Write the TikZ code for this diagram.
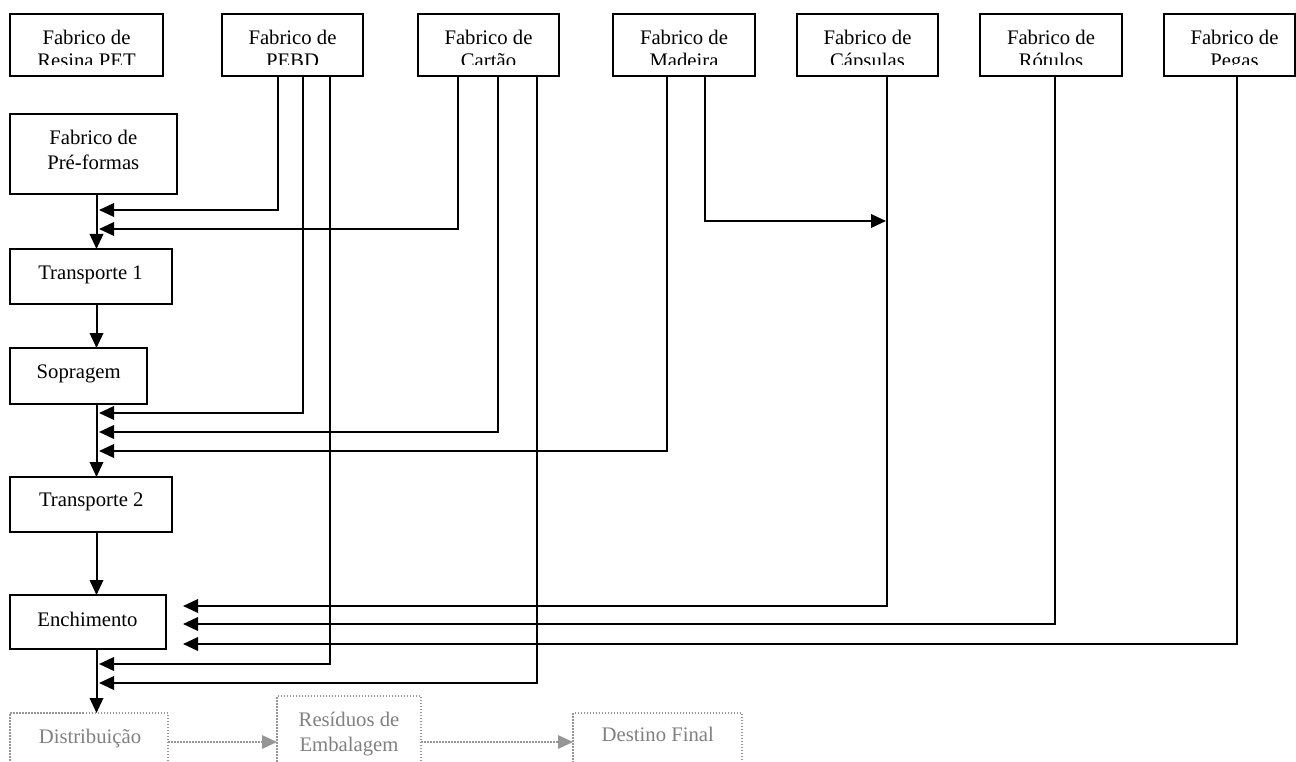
\documentclass[tikz,border=0pt]{standalone}
\usepackage{fontspec}
\setmainfont{Liberation Serif}
\usetikzlibrary{arrows.meta}
\definecolor{txtgray}{RGB}{128,128,128}
\definecolor{dotgray}{RGB}{150,150,150}
\begin{document}
\begin{tikzpicture}[x=1pt,y=-1pt,
  box/.style={draw=black,line width=2pt,anchor=north west,inner sep=0pt,outer sep=0pt},
  ghost/.style={draw=dotgray,line width=1.5pt,dash pattern=on 1.5pt off 1.5pt,anchor=north west,inner sep=0pt,outer sep=0pt},
  txt/.style={anchor=base,inner sep=0pt,outer sep=0pt,font=\fontsize{20.7}{24}\selectfont},
  gtxt/.style={txt,text=txtgray},
  link/.style={line width=2pt},
  flow/.style={line width=2pt,-{Triangle[length=15pt,width=13.5pt]}},
  gflow/.style={draw=dotgray,line width=1.5pt,dash pattern=on 1.5pt off 1.5pt,-{Triangle[length=15pt,width=13.5pt,fill=dotgray]}},
]
\useasboundingbox (0,0) rectangle (1296,762);
\clip (0,0) rectangle (1296,762);

% suppliers along the top
\node[box,minimum width=153pt,minimum height=62pt] (resina)   at (10,14)   {};
\node[box,minimum width=141pt,minimum height=62pt] (pebd)     at (222,14)  {};
\node[box,minimum width=141pt,minimum height=62pt] (cartao)   at (418,14)  {};
\node[box,minimum width=142pt,minimum height=62pt] (madeira)  at (613,14)  {};
\node[box,minimum width=141pt,minimum height=62pt] (capsulas) at (797,14)  {};
\node[box,minimum width=142pt,minimum height=62pt] (rotulos)  at (980,14)  {};
\node[box,minimum width=131pt,minimum height=62pt] (pegas)    at (1164,14) {};

\begin{scope}
  \clip (0,0) rectangle (1296,65);
  \node[txt] (resinaA)   at (86.5,45)   {Fabrico de};
  \node[txt] (resinaB)   at (86.5,67.5) {Resina PET};
  \node[txt] (pebdA)     at (292.5,45)  {Fabrico de};
  \node[txt] (pebdB)     at (292.5,67.5){PEBD};
  \node[txt] (cartaoA)   at (488.5,45)  {Fabrico de};
  \node[txt] (cartaoB)   at (488.5,67.5){Cartão};
  \node[txt] (madeiraA)  at (684,45)    {Fabrico de};
  \node[txt] (madeiraB)  at (684,67.5)  {Madeira};
  \node[txt] (capsulasA) at (867.5,45)  {Fabrico de};
  \node[txt] (capsulasB) at (867.5,67.5){Cápsulas};
  \node[txt] (rotulosA)  at (1051,45)   {Fabrico de};
  \node[txt] (rotulosB)  at (1051,67.5) {Rótulos};
  \node[txt] (pegasA)    at (1234.5,45) {Fabrico de};
  \node[txt] (pegasB)    at (1234.5,67.5){Pegas};
\end{scope}

% process chain on the left
\node[box,minimum width=167pt,minimum height=80pt] (preformas)  at (10,114) {};
\node[box,minimum width=162pt,minimum height=55pt] (t1)         at (10,249) {};
\node[box,minimum width=137pt,minimum height=56pt] (sopragem)   at (10,348) {};
\node[box,minimum width=162pt,minimum height=55pt] (t2)         at (10,477) {};
\node[box,minimum width=156pt,minimum height=54pt] (enchimento) at (10,595) {};

\node[txt] (preformasA) at (93.3,144.5) {Fabrico de};
\node[txt] (preformasB) at (93.3,169.5) {Pré-formas};
\node[txt] (t1T)        at (90.5,279.3) {Transporte 1};
\node[txt] (sopragemT)  at (78.7,378.5) {Sopragem};
\node[txt] (t2T)        at (91.3,506)   {Transporte 2};
\node[txt] (enchT)      at (87.5,626.5) {Enchimento};

% later life-cycle stages (dotted, grey)
\node[ghost,minimum width=158pt,minimum height=58pt] (dist)     at (10,713)  {};
\node[ghost,minimum width=144pt,minimum height=92pt] (residuos) at (277,696) {};
\node[ghost,minimum width=169pt,minimum height=58pt] (destino)  at (573,713) {};

\node[gtxt] (distT)      at (90,743)    {Distribuição};
\node[gtxt] (residuosA)  at (349,726.3) {Resíduos de};
\node[gtxt] (residuosB)  at (349,751.4) {Embalagem};
\node[gtxt] (destinoT)   at (657.8,741.4) {Destino Final};

% columns of the supply lines
\coordinate (main) at (96.5,0);
\coordinate (pe1) at (278,0);
\coordinate (pe2) at (303,0);
\coordinate (pe3) at (330,0);
\coordinate (ca1) at (458,0);
\coordinate (ca2) at (498,0);
\coordinate (ca3) at (537,0);
\coordinate (ma1) at (667,0);
\coordinate (ma2) at (705,0);
\coordinate (cp)  at (887,0);
\coordinate (ro)  at (1055,0);
\coordinate (pg)  at (1237,0);

% arrow tips on the main line and at Enchimento
\coordinate (in1) at (99,210);
\coordinate (in2) at (99,229);
\coordinate (in3) at (99,413);
\coordinate (in4) at (99,432);
\coordinate (in5) at (99,451);
\coordinate (in6) at (99,664);
\coordinate (in7) at (99,683);
\coordinate (en1) at (183,606);
\coordinate (en2) at (183,624);
\coordinate (en3) at (183,644);
\coordinate (mc)  at (886,221);

% main flow
\draw[flow] (preformas.south -| main) -- (t1.north -| main);
\draw[flow] (t1.south -| main) -- (sopragem.north -| main);
\draw[flow] (sopragem.south -| main) -- (t2.north -| main);
\draw[flow] (t2.south -| main) -- (enchimento.north -| main);
\draw[flow] (enchimento.south -| main) -- (dist.north -| main);

% supplies
\draw[flow] (pebd.south -| pe1) |- (in1);
\draw[flow] (cartao.south -| ca1) |- (in2);
\draw[flow] (pebd.south -| pe2) |- (in3);
\draw[flow] (cartao.south -| ca2) |- (in4);
\draw[flow] (madeira.south -| ma1) |- (in5);
\draw[flow] (pebd.south -| pe3) |- (in6);
\draw[flow] (cartao.south -| ca3) |- (in7);
\draw[flow] (madeira.south -| ma2) |- (mc);
\draw[flow] (capsulas.south -| cp) |- (en1);
\draw[flow] (rotulos.south -| ro) |- (en2);
\draw[flow] (pegas.south -| pg) |- (en3);

% end of life
\draw[gflow] (dist.east) -- (residuos.west);
\draw[gflow] (residuos.east) -- (destino.west);
\end{tikzpicture}
\end{document}
